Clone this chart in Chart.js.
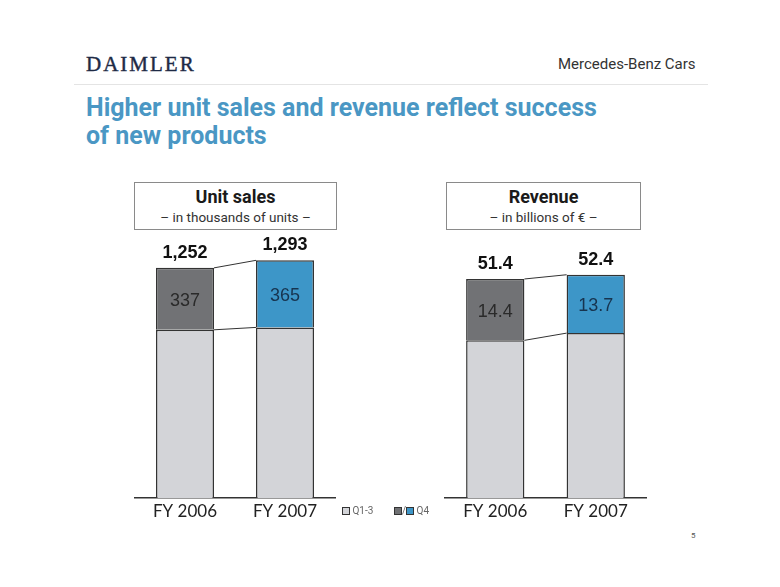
<!DOCTYPE html>
<html>
<head>
<meta charset="utf-8">
<script src="https://cdn.jsdelivr.net/npm/chart.js@4/dist/chart.umd.min.js"></script>
<style>
  body { margin: 0; background: #fff; }
  #page { position: relative; width: 780px; height: 587px; overflow: hidden; background: #fff; font-family: Roboto, sans-serif; }
  .abs { position: absolute; white-space: nowrap; }
  #daimler { left: 86px; top: 52px; font-family: "Liberation Serif", serif; font-size: 21px; letter-spacing: 2px; color: #1e2a45; -webkit-text-stroke: 0.4px #1e2a45; }
  #division { left: 558px; top: 55px; font-size: 15px; color: #333; }
  #rule { left: 74px; top: 84px; width: 634px; height: 1px; background: #e4e4e4; }
  .title { left: 86px; font-size: 25px; font-weight: bold; color: #4a97c4; }
  .box { border: 1px solid #8a8a8a; background: #fff; text-align: center; }
  .box .h { font-size: 18px; font-weight: bold; color: #1a1a1a; margin-top: 3px; line-height: 22px; }
  .box .s { font-size: 13.5px; color: #333; margin-top: 0px; line-height: 18px; }
  .legend { font-size: 10px; color: #666; top: 505px; }
  .sw { display: inline-block; width: 6px; height: 6px; border: 1px solid #333; vertical-align: -1px; }
  #pageno { left: 691px; top: 531px; font-size: 8px; color: #555; }
  .chartwrap { position: absolute; top: 230px; }
</style>
</head>
<body>
<div id="page">
  <div class="abs" id="daimler">DAIMLER</div>
  <div class="abs" id="division">Mercedes-Benz Cars</div>
  <div class="abs" id="rule"></div>
  <div class="abs title" style="top:93px">Higher unit sales and revenue reflect success</div>
  <div class="abs title" style="top:121px">of new products</div>

  <div class="abs box" style="left:134px; top:182px; width:201px; height:46px;">
    <div class="h">Unit sales</div>
    <div class="s">– in thousands of units –</div>
  </div>
  <div class="abs box" style="left:446px; top:182px; width:193px; height:46px;">
    <div class="h">Revenue</div>
    <div class="s">– in billions of €&nbsp;–</div>
  </div>

  <div class="chartwrap" style="left:125px;"><canvas id="unitChart" width="220" height="300"></canvas></div>
  <div class="chartwrap" style="left:435px;"><canvas id="revChart" width="221" height="300"></canvas></div>

  <div class="abs legend" style="left:342px;"><span class="sw" style="background:#d3d4d8"></span> Q1-3</div>
  <div class="abs legend" style="left:394px;"><span class="sw" style="background:#6f7073"></span>/<span class="sw" style="background:#3d96c8"></span> Q4</div>
  <div class="abs" id="pageno">5</div>
</div>

<script>
// Chart data
const years = ['FY 2006', 'FY 2007'];

const unitQ13 = [915, 928];
const unitQ4 = [337, 365];

const revQ13 = [37.0, 38.7];
const revQ4 = [14.4, 13.7];

const q13Color = '#d3d4d8';
const q4Colors = ['#717275', '#3d96c8'];
const q4TextColors = ['#2a2a2a', '#17344f'];

// connector lines + value labels
const barLabels = {
    id: 'barLabels',
    afterDatasetsDraw(chart, args, opts) {
        const ctx = chart.ctx;
        const low = chart.getDatasetMeta(0).data;
        const high = chart.getDatasetMeta(1).data;

        ctx.save();
        ctx.strokeStyle = '#333';
        ctx.lineWidth = 1;
        [low, high].forEach(bars => {
            const a = bars[0], b = bars[1];
            ctx.beginPath();
            ctx.moveTo(a.x + a.width / 2, a.y);
            ctx.lineTo(b.x - b.width / 2, b.y);
            ctx.stroke();
        });

        ctx.textAlign = 'center';
        ctx.textBaseline = 'middle';
        high.forEach((bar, i) => {
            const total = opts.low[i] + opts.high[i];
            ctx.fillStyle = '#111';
            ctx.font = 'bold 18px "Liberation Sans", Arial, sans-serif';
            ctx.fillText(opts.fmt(total), bar.x, bar.y - 15);

            ctx.fillStyle = q4TextColors[i];
            ctx.font = '18px "Liberation Sans", Arial, sans-serif';
            ctx.fillText(opts.fmt(opts.high[i]), bar.x, (bar.y + bar.base) / 2 + 2);
        });
        ctx.restore();
    }
};

function makeChart(id, low, high, yMax, fmt) {
    return new Chart(document.getElementById(id), {
        type: 'bar',
        data: {
            labels: years,
            datasets: [
                {
                    label: 'Q1-3',
                    data: low,
                    backgroundColor: q13Color,
                    borderColor: '#333',
                    borderWidth: 1.5
                },
                {
                    label: 'Q4',
                    data: high,
                    backgroundColor: q4Colors,
                    borderColor: '#333',
                    borderWidth: 1.5
                }
            ]
        },
        options: {
            responsive: false,
            animation: false,
            layout: { padding: { left: 10, right: 10, top: 0, bottom: 0 } },
            datasets: { bar: { barPercentage: 0.58, categoryPercentage: 1 } },
            plugins: {
                legend: { display: false },
                tooltip: { enabled: false },
                barLabels: { low: low, high: high, fmt: fmt }
            },
            scales: {
                x: {
                    stacked: true,
                    grid: { display: false, drawTicks: false },
                    border: { display: true, color: '#333', width: 1.5 },
                    ticks: {
                        color: '#222',
                        padding: 3,
                        font: { family: 'Lato, sans-serif', size: 17 }
                    },
                    afterFit(axis) { axis.height = 32; }
                },
                y: {
                    stacked: true,
                    display: false,
                    min: 0,
                    max: yMax
                }
            }
        },
        plugins: [barLabels]
    });
}

makeChart('unitChart', unitQ13, unitQ4, 1458, v => v.toLocaleString('en-US'));
makeChart('revChart', revQ13, revQ4, 62.9, v => v.toFixed(1));
</script>
</body>
</html>
